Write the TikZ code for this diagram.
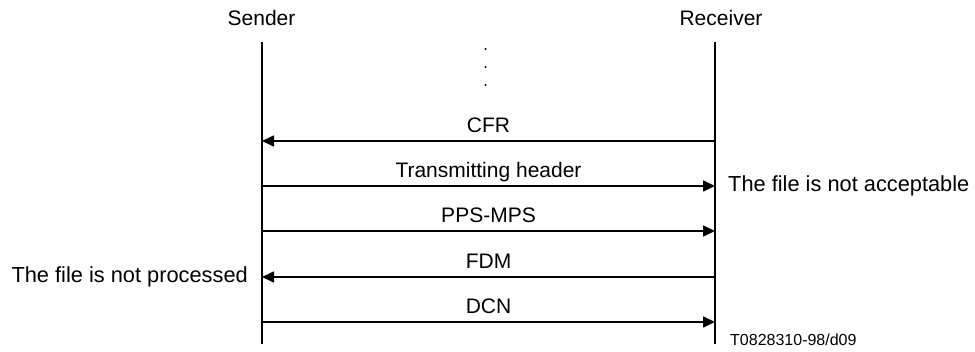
\documentclass[tikz,border=0pt]{standalone}
\usepackage{fontspec}
\setmainfont{Liberation Sans}
\usetikzlibrary{arrows.meta}
\begin{document}
\begin{tikzpicture}[
x=1pt, y=-1pt,
party/.style={font=\fontsize{21}{25}\selectfont, anchor=base, inner sep=0pt},
lifeline/.style={line width=1.7pt},
message/.style={line width=1.7pt, -{Triangle[length=12pt, width=11pt]}},
msglabel/.style={font=\fontsize{21}{25}\selectfont, anchor=base, inner sep=0pt, yshift=8.5pt},
note/.style={font=\fontsize{21.8}{26}\selectfont, inner sep=0pt},
tag/.style={font=\fontsize{16}{19}\selectfont, anchor=base west, inner sep=0pt},
gap/.style={circle, fill=black, inner sep=0pt, minimum size=2.2pt},
]
\useasboundingbox (0,0) rectangle (975,352);
\node[party] (sender) at (261.5,26) {Sender};
\node[party] (receiver) at (721,26) {Receiver};
\coordinate (S0) at (262,42);
\coordinate (R0) at (715,42);
\coordinate (S6) at (262,344);
\coordinate (R6) at (715,344);
\draw[lifeline] (S0) -- (S6);
\draw[lifeline] (R0) -- (R6);
\node[gap] (dot1) at (485.5,49) {};
\node[gap] (dot2) at (485.5,67) {};
\node[gap] (dot3) at (485.5,85) {};
\coordinate (S1) at (262,141); \coordinate (R1) at (715,141);
\coordinate (S2) at (262,186); \coordinate (R2) at (715,186);
\coordinate (S3) at (262,231); \coordinate (R3) at (715,231);
\coordinate (S4) at (262,277); \coordinate (R4) at (715,277);
\coordinate (S5) at (262,322); \coordinate (R5) at (715,322);
\draw[message] (R1) -- node[msglabel] (cfr) {CFR} (S1);
\draw[message] (S2) -- node[msglabel] (header) {Transmitting header} (R2);
\draw[message] (S3) -- node[msglabel] (ppsmps) {PPS-MPS} (R3);
\draw[message] (R4) -- node[msglabel] (fdm) {FDM} (S4);
\draw[message] (S5) -- node[msglabel] (dcn) {DCN} (R5);
\node[note, anchor=base west] (acceptable) at (728,192) {The file is not acceptable};
\node[note, anchor=base east] (processed) at (248,283) {The file is not processed};
\node[tag] (figref) at (730,345.5) {T0828310-98/d09};
\end{tikzpicture}
\end{document}
